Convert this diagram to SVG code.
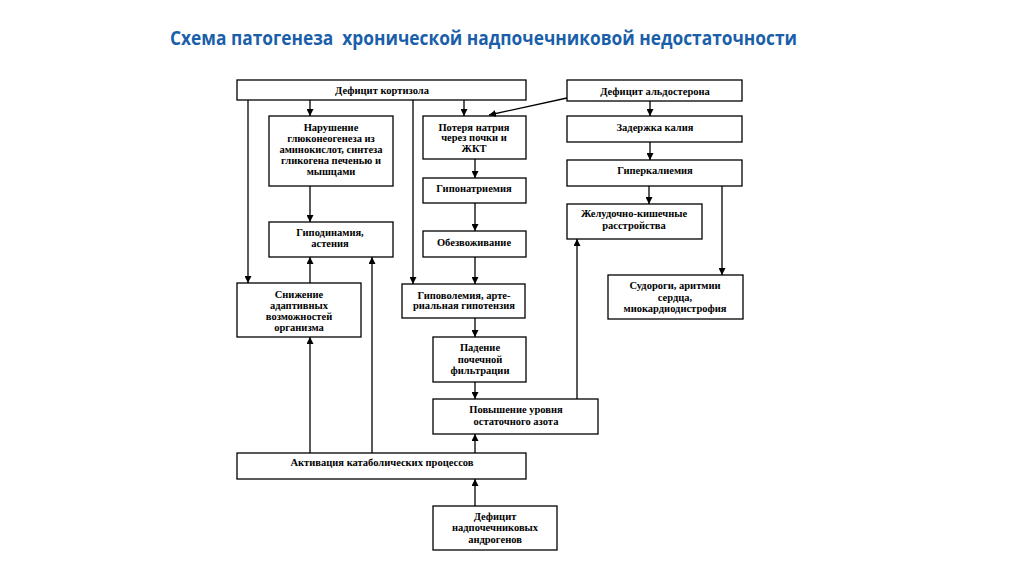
<svg xmlns="http://www.w3.org/2000/svg" width="1024" height="574" viewBox="0 0 1024 574">
<defs>
<marker id="ah" viewBox="0 0 10 10" refX="10" refY="5" markerWidth="7" markerHeight="7" markerUnits="userSpaceOnUse" orient="auto">
<path d="M0,0 L10,5 L0,10 z" fill="#000"/>
</marker>
<style>
.box{fill:#fff;stroke:#000;stroke-width:1.3}
.t{font-family:"Liberation Serif","Times New Roman",serif;font-weight:bold;font-size:10.5px;fill:#000;text-anchor:middle}
.c line{stroke:#000;stroke-width:1.3;fill:none}
.title{font-family:"Open Sans","Noto Sans",sans-serif;font-weight:bold;font-size:19px;fill:#1b5faa}
</style>
</defs>
<rect width="1024" height="574" fill="#fff"/>
<text class="title" x="170" y="45" textLength="627" lengthAdjust="spacingAndGlyphs" xml:space="preserve">Схема патогенеза  хронической надпочечниковой недостаточности</text>

<g id="n-kortizol"><rect class="box" x="237" y="80" width="289" height="20"/><text class="t" x="382" y="94">Дефицит кортизола</text></g>
<g id="n-aldosteron"><rect class="box" x="567" y="80" width="175" height="21"/><text class="t" x="655" y="95">Дефицит альдостерона</text></g>
<g id="n-narushenie"><rect class="box" x="269" y="116" width="124" height="70"/>
<text class="t" x="331" y="131">Нарушение</text><text class="t" x="331" y="142">глюконеогенеза из</text><text class="t" x="331" y="153">аминокислот, синтеза</text><text class="t" x="331" y="164">гликогена печенью и</text><text class="t" x="331" y="175">мышцами</text></g>
<g id="n-poterya"><rect class="box" x="423" y="116" width="103" height="43"/>
<text class="t" x="474" y="131">Потеря натрия</text><text class="t" x="474" y="141">через почки и</text><text class="t" x="474" y="152">ЖКТ</text></g>
<g id="n-zaderzhka"><rect class="box" x="567" y="116" width="175" height="26"/><text class="t" x="655" y="131">Задержка калия</text></g>
<g id="n-giperkaliemia"><rect class="box" x="567" y="160" width="175" height="26"/><text class="t" x="655" y="174">Гиперкалиемия</text></g>
<g id="n-giponatriemia"><rect class="box" x="423" y="178" width="103" height="25"/><text class="t" x="474" y="192">Гипонатриемия</text></g>
<g id="n-zhkt"><rect class="box" x="567" y="204" width="135" height="35"/>
<text class="t" x="634" y="217">Желудочно-кишечные</text><text class="t" x="634" y="229">расстройства</text></g>
<g id="n-gipodinamia"><rect class="box" x="269" y="222" width="124" height="35"/>
<text class="t" x="330" y="236">Гиподинамия,</text><text class="t" x="330" y="247">астения</text></g>
<g id="n-obezvozhivanie"><rect class="box" x="423" y="231" width="103" height="26"/><text class="t" x="474" y="246">Обезвоживание</text></g>
<g id="n-sudorogi"><rect class="box" x="608" y="275" width="135" height="44"/>
<text class="t" x="675" y="289">Судороги, аритмии</text><text class="t" x="675" y="301">сердца,</text><text class="t" x="675" y="312">миокардиодистрофия</text></g>
<g id="n-snizhenie"><rect class="box" x="237" y="283" width="124" height="54"/>
<text class="t" x="299" y="298">Снижение</text><text class="t" x="299" y="309">адаптивных</text><text class="t" x="299" y="320">возможностей</text><text class="t" x="299" y="331">организма</text></g>
<g id="n-gipovolemia"><rect class="box" x="402" y="284" width="123" height="34"/>
<text class="t" x="464" y="299">Гиповолемия, арте-</text><text class="t" x="464" y="309">риальная гипотензия</text></g>
<g id="n-padenie"><rect class="box" x="433" y="337" width="93" height="45"/>
<text class="t" x="480" y="351">Падение</text><text class="t" x="480" y="363">почечной</text><text class="t" x="480" y="374">фильтрации</text></g>
<g id="n-povyshenie"><rect class="box" x="433" y="399" width="165" height="35"/>
<text class="t" x="516" y="413">Повышение уровня</text><text class="t" x="516" y="425">остаточного азота</text></g>
<g id="n-aktivacia"><rect class="box" x="237" y="453" width="289" height="26"/><text class="t" x="382" y="466">Активация катаболических процессов</text></g>
<g id="n-androgeny"><rect class="box" x="433" y="506" width="124" height="44"/>
<text class="t" x="495" y="520">Дефицит</text><text class="t" x="495" y="531">надпочечниковых</text><text class="t" x="495" y="543">андрогенов</text></g>

<g id="connectors" class="c">
<line x1="248" y1="100" x2="248" y2="283" marker-end="url(#ah)"/>
<line x1="310" y1="100" x2="310" y2="116" marker-end="url(#ah)"/>
<line x1="413" y1="100" x2="413" y2="284" marker-end="url(#ah)"/>
<line x1="464" y1="100" x2="464" y2="116" marker-end="url(#ah)"/>
<line x1="567" y1="98" x2="489" y2="115" marker-end="url(#ah)"/>
<line x1="650" y1="101" x2="650" y2="116" marker-end="url(#ah)"/>
<line x1="650" y1="142" x2="650" y2="160" marker-end="url(#ah)"/>
<line x1="649" y1="186" x2="649" y2="204" marker-end="url(#ah)"/>
<line x1="722" y1="186" x2="722" y2="275" marker-end="url(#ah)"/>
<line x1="310" y1="186" x2="310" y2="222" marker-end="url(#ah)"/>
<line x1="475" y1="159" x2="475" y2="178" marker-end="url(#ah)"/>
<line x1="475" y1="203" x2="475" y2="231" marker-end="url(#ah)"/>
<line x1="475" y1="257" x2="475" y2="284" marker-end="url(#ah)"/>
<line x1="475" y1="318" x2="475" y2="337" marker-end="url(#ah)"/>
<line x1="475" y1="382" x2="475" y2="399" marker-end="url(#ah)"/>
<line x1="475" y1="453" x2="475" y2="434" marker-end="url(#ah)"/>
<line x1="475" y1="506" x2="475" y2="479" marker-end="url(#ah)"/>
<line x1="310" y1="453" x2="310" y2="337" marker-end="url(#ah)"/>
<line x1="372" y1="453" x2="372" y2="257" marker-end="url(#ah)"/>
<line x1="310" y1="283" x2="310" y2="257" marker-end="url(#ah)"/>
<line x1="577" y1="399" x2="577" y2="239" marker-end="url(#ah)"/>
</g>
</svg>
